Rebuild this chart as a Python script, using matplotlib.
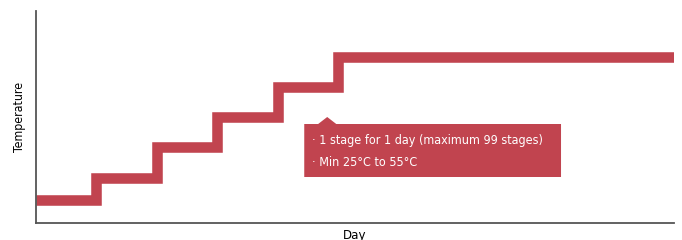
import matplotlib
matplotlib.use("Agg")
import matplotlib.pyplot as plt
from matplotlib import font_manager
from matplotlib.patches import Polygon

# Step profile: one stage per day, temperature rising then held
days = [0, 1, 2, 3, 4, 5, 10.56]
temps = [22.5, 44.5, 75.5, 105.5, 136, 166, 166]
note_lines = ["\u00b7 1 stage for 1 day (maximum 99 stages)", "\u00b7 Min 25\u00b0C to 55\u00b0C"]

red = "#c1444f"

# narrow face looks closer to the original lettering
narrow = font_manager.findfont("DejaVu Sans")
for f in font_manager.fontManager.ttflist:
    if f.fname.endswith("DejaVuSansCondensed.ttf"):
        narrow = f.fname
        break


def fp(size):
    return font_manager.FontProperties(fname=narrow, size=size)


fig = plt.figure(figsize=(6.82, 2.4), dpi=100)
ax = fig.add_axes([36 / 682, 17.5 / 240, 638 / 682, 211.5 / 240])

ax.step(days, temps, where="post", color=red, lw=7.6,
        solid_joinstyle="miter", solid_capstyle="butt")

ax.set_xlim(0, 10.56)
ax.set_ylim(0, 211.5)
ax.set_xticks([])
ax.set_yticks([])
for side in ["top", "right"]:
    ax.spines[side].set_visible(False)
for side in ["left", "bottom"]:
    ax.spines[side].set_color("#555555")
    ax.spines[side].set_linewidth(1.3)

ax.set_xlabel("Day", fontproperties=fp(9.5), labelpad=5)
ax.set_ylabel("Temperature", fontproperties=fp(8.8), labelpad=7)

# callout box with a small pointer on top
box = [(4.44, 45.5), (8.69, 45.5), (8.69, 98.5), (4.97, 98.5), (4.82, 105.5),
       (4.67, 98.5), (4.44, 98.5)]
ax.add_patch(Polygon(box, closed=True, facecolor=red, edgecolor="none", zorder=3))
ax.text(4.57, 82, note_lines[0], color="white", fontproperties=fp(9.0),
        va="center", zorder=4)
ax.text(4.57, 60, note_lines[1], color="white", fontproperties=fp(9.0),
        va="center", zorder=4)

fig.savefig("out.png", dpi=100)
